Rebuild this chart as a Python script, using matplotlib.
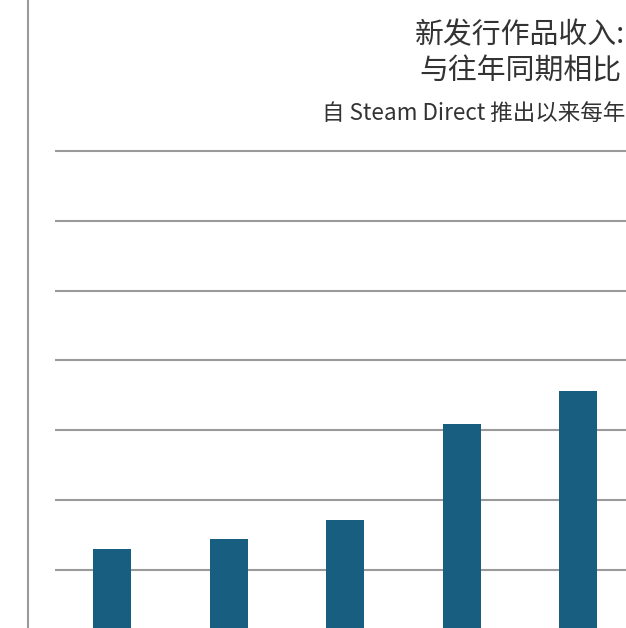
import matplotlib
matplotlib.use('Agg')
import matplotlib.pyplot as plt

plt.rcParams['font.family'] = ['Noto Sans CJK SC', 'DejaVu Sans']

# values (grid step = 1 unit, bars cut at the bottom)
years = ['第1年', '第2年', '第3年', '第4年', '第5年']
values = [1.30, 1.44, 1.71, 3.09, 3.56]
grid_vals = [1, 2, 3, 4, 5, 6, 7]

title = '新发行作品收入:\n与往年同期相比'
subtitle = '自 Steam Direct 推出以来每年'

bar_color = '#175e80'
grid_color = '#9a9a9a'

fig = plt.figure(figsize=(6.26, 6.28), dpi=100)
ax = fig.add_axes([0, 0, 1, 1])

x = list(range(len(values)))
ax.bar(x, values, width=0.326, color=bar_color, zorder=3)

# horizontal grid lines start a bit right of the left axis line
ax.hlines(grid_vals, -0.49, 5, color=grid_color, lw=1.5, zorder=1)
ax.axvline(-0.72, color=grid_color, lw=1.5)

ax.set_xlim(-0.961, 4.408)
ax.set_ylim(0.166, 9.163)
ax.axis('off')

fig.text(520 / 626, 1 - 53 / 628, title, ha='center', va='center',
         fontsize=20.8, color='#333333', linespacing=1.28)
fig.text(322 / 626, 1 - 113 / 628, subtitle, ha='left', va='center',
         fontsize=16.2, color='#333333')

fig.savefig('out.png', dpi=100)
